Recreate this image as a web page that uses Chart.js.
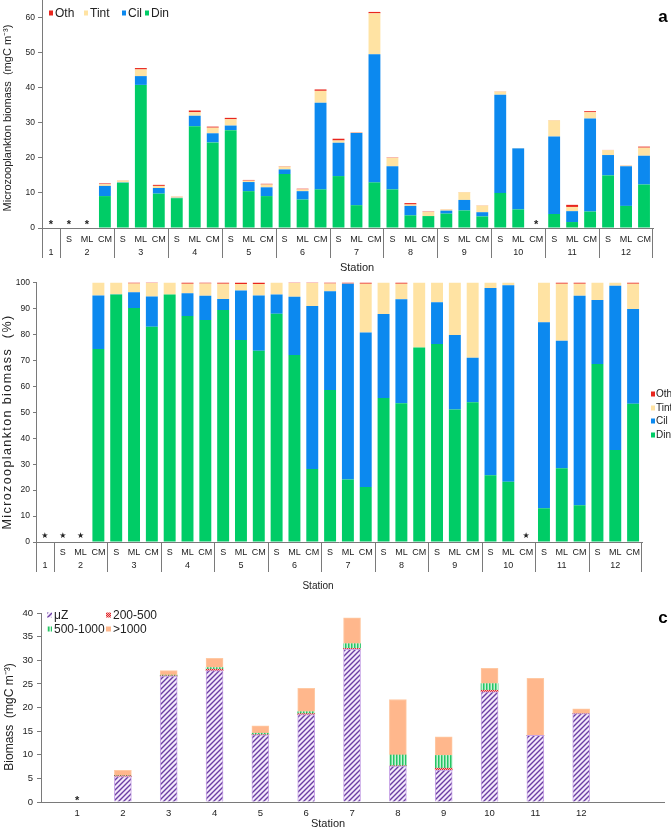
<!DOCTYPE html>
<html>
<head>
<meta charset="utf-8">
<script src="https://cdn.jsdelivr.net/npm/chart.js@4"></script>
<style>
body { margin: 0; background: #fff; width: 671px; height: 829px; overflow: hidden; position: relative; }
canvas { position: absolute; left: 0; }
</style>
</head>
<body>
<canvas id="ca" width="671" height="275" style="top:0"></canvas>
<canvas id="cb" width="671" height="320" style="top:275px"></canvas>
<canvas id="cc" width="671" height="234" style="top:595px"></canvas>
<script>
// slots along the x axis of panels a and b
var slotLabels = ['', 'S','ML','CM', 'S','ML','CM', 'S','ML','CM', 'S','ML','CM', 'S','ML','CM', 'S','ML','CM',
                  'S','ML','CM', 'S','ML','CM', 'S','ML','CM', 'S','ML','CM', 'S','ML','CM'];
var stationNames = ['1','2','3','4','5','6','7','8','9','10','11','12'];
var stationSlots = [1,3,3,3,3,3,3,3,3,3,3,3];
var missingSlots = [0,1,2,27];

// panel a, mgC m-3
var dinA  = [null,null,null,9.1, 12.9,40.8,9.8, 8.5,29.0,24.4, 27.9,10.5,9.1, 15.4,8.1,11.0, 14.8,6.5,13.0, 11.0,3.6,3.4, 4.1,5.0,3.3, 10.0,5.3,null, 4.0,1.7,4.7, 15.0,6.3,12.4];
var cilA  = [null,null,null,2.9, 0.1,2.5,1.6, 0.1,3.0,2.6, 1.3,2.6,2.5, 1.3,2.4,24.7, 9.5,20.6,36.5, 6.6,2.7,0, 0.85,3.0,1.2, 28.0,17.4,null, 22.1,3.1,26.5, 5.8,11.3,8.2];
var tintA = [null,null,null,0.5, 0.5,1.9,0.6, 0.35,1.0,1.6, 1.8,0.4,0.8, 0.8,0.5,3.4, 0.65,0.1,11.7, 2.4,0.4,1.2, 0.35,2.2,1.9, 0.9,0.1,null, 4.6,1.2,1.8, 1.4,0.2,2.3];
var othA  = [null,null,null,0.2, 0.05,0.4,0.3, 0.05,0.5,0.3, 0.4,0.2,0.2, 0.1,0.2,0.4, 0.5,0.1,0.4, 0.1,0.4,0.1, 0.05,0.05,0.05, 0.05,0,null, 0.05,0.6,0.3, 0.05,0.05,0.3];

// panel b, %
var dinB  = [null,null,null,74.4, 95.4,90.2,83.0, 95.4,87.1,85.6, 89.4,77.9,73.7, 88.0,72.1,28.1, 58.6,24.1,21.2, 55.5,53.5,75.0, 76.3,51.1,53.9, 25.7,23.2,null, 13.0,28.4,14.2, 68.6,35.5,53.3];
var cilB  = [null,null,null,20.6, 0.1,6.1,11.6, 0,8.8,9.3, 4.3,19.1,21.3, 7.4,22.4,62.9, 38.1,75.5,59.6, 32.4,40.1,0, 16.1,28.7,17.1, 72.2,75.8,null, 71.7,49.2,80.7, 24.7,63.3,36.5];
var tintB = [null,null,null,5.0, 4.5,3.4,5.2, 4.6,3.7,4.8, 5.9,2.5,4.5, 4.6,5.3,8.8, 3.0,0.1,18.8, 12.1,6.0,25.0, 7.6,20.2,29.0, 2.1,1.0,null, 15.3,22.0,4.7, 6.7,1.2,9.8];
var othB  = [null,null,null,0, 0,0.3,0.2, 0,0.4,0.3, 0.4,0.5,0.5, 0,0.2,0.2, 0.3,0.3,0.4, 0,0.4,0, 0,0,0, 0,0,null, 0,0.4,0.4, 0,0,0.4];

// panel c, mgC m-3 by size class
var cStations = [1,2,3,4,5,6,7,8,9,10,11,12];
var uzC   = [null,5.4,26.65,27.8,14.2,18.5,32.3,7.6,6.75,23.3,14.1,18.7];
var c200  = [null,0.15,0.05,0.3,0.05,0.2,0.2,0.05,0.4,0.35,0,0];
var c500  = [null,0.1,0.15,0.35,0.3,0.4,1.0,2.3,2.7,1.4,0,0];
var c1000 = [null,1.05,0.95,1.95,1.55,4.95,5.5,11.75,3.95,3.25,12.1,1.0];

Chart.defaults.font.family = "'Liberation Sans', Arial, sans-serif";
Chart.defaults.color = '#333';

var colDin = '#00cc66', colCil = '#0c89ef', colTint = '#ffe3a3', colOth = '#e8261e';
var axisCol = '#7a7a7a';

function makePattern(w, h, bg, draw) {
	var c = document.createElement('canvas');
	c.width = w; c.height = h;
	var g = c.getContext('2d');
	g.fillStyle = bg;
	g.fillRect(0, 0, w, h);
	draw(g, w, h);
	return g.createPattern(c, 'repeat');
}
var patUz = makePattern(5, 5, '#f3e9fb', function(g, s) {
	g.strokeStyle = '#6b3ea3'; g.lineWidth = 1.4;
	g.beginPath();
	g.moveTo(0, s); g.lineTo(s, 0);
	g.moveTo(-1, 1); g.lineTo(1, -1);
	g.moveTo(s - 1, s + 1); g.lineTo(s + 1, s - 1);
	g.stroke();
});
var pat200 = makePattern(2, 2, '#f6b3b3', function(g) {
	g.fillStyle = '#e0262a'; g.fillRect(0, 0, 1, 1); g.fillRect(1, 1, 1, 1);
});
var pat500 = makePattern(3, 3, '#c8f3d6', function(g) {
	g.fillStyle = '#25c464'; g.fillRect(0, 0, 1.5, 3);
});

function fixY(w) { return function(s) { s.width = w; s.paddingTop = 0; s.paddingBottom = 0; }; }
function fixX(h) { return function(s) { s.height = h; s.paddingLeft = 0; s.paddingRight = 0; }; }

function vText(ctx, text, x, y, font, spacing) {
	ctx.save();
	ctx.translate(x, y);
	ctx.rotate(-Math.PI / 2);
	ctx.font = font;
	if (spacing) ctx.letterSpacing = spacing + 'px';
	ctx.textAlign = 'center';
	ctx.textBaseline = 'middle';
	ctx.fillText(text, 0, 0);
	ctx.restore();
}

// station groups, stars, legend, titles
var decor = {
	id: 'decor',
	afterDraw: function(chart, args, o) {
		var ctx = chart.ctx, xs = chart.scales.x, ys = chart.scales.y;
		var y0 = ys.getPixelForValue(0);
		ctx.save();
		ctx.fillStyle = '#222';
		ctx.textAlign = 'center';
		ctx.textBaseline = 'middle';

		if (o.groups) {
			var half = (xs.getPixelForValue(1) - xs.getPixelForValue(0)) / 2;
			ctx.strokeStyle = axisCol; ctx.lineWidth = 1;
			ctx.font = o.groupFont;
			var i = 0;
			o.groups.forEach(function(n, g) {
				var l = xs.getPixelForValue(i) - half, r = xs.getPixelForValue(i + n - 1) + half;
				ctx.beginPath();
				ctx.moveTo(Math.round(l) + 0.5, y0); ctx.lineTo(Math.round(l) + 0.5, y0 + o.sepLen);
				if (g == o.groups.length - 1) {
					ctx.moveTo(Math.round(r) - 0.5, y0); ctx.lineTo(Math.round(r) - 0.5, y0 + o.sepLen);
				}
				ctx.stroke();
				ctx.fillText(o.groupNames[g], (l + r) / 2, o.groupY);
				i += n;
			});
		}

		if (o.stars) {
			ctx.font = o.starFont;
			o.stars.forEach(function(v) {
				ctx.fillText(o.starChar, xs.getPixelForValue(v), o.starY);
			});
		}

		if (o.legend) {
			ctx.textAlign = 'left';
			ctx.font = o.legend.font;
			o.legend.items.forEach(function(it) {
				var ds = chart.data.datasets[it.ds];
				ctx.fillStyle = ds.backgroundColor;
				ctx.fillRect(it.x, it.y - o.legend.bh / 2, o.legend.bw, o.legend.bh);
				ctx.fillStyle = '#222';
				ctx.fillText(ds.label, it.x + o.legend.bw + o.legend.gap, it.y + 0.5);
			});
		}

		ctx.textAlign = 'center';
		if (o.xTitle) {
			ctx.font = o.xTitle.font;
			ctx.fillText(o.xTitle.text, o.xTitle.x, o.xTitle.y);
		}
		if (o.yTitle) {
			vText(ctx, o.yTitle.text, o.yTitle.x, o.yTitle.y, o.yTitle.font, o.yTitle.spacing);
		}
		if (o.letter) {
			ctx.font = 'bold 17px ' + Chart.defaults.font.family;
			ctx.fillStyle = '#000';
			ctx.fillText(o.letter.text, o.letter.x, o.letter.y);
		}
		ctx.restore();
	}
};

function baseOptions(pad) {
	return {
		responsive: false,
		animation: false,
		layout: { padding: pad },
		plugins: { legend: { display: false }, tooltip: { enabled: false } }
	};
}

// panel a
var optA = baseOptions({ left: 0, right: 18, top: 0, bottom: 0 });
optA.datasets = { bar: { barPercentage: 0.66, categoryPercentage: 1 } };
optA.plugins.decor = {
	groups: stationSlots, groupNames: stationNames, groupFont: '9px Liberation Sans', groupY: 253, sepLen: 30,
	stars: missingSlots, starChar: '*', starFont: 'bold 11px Liberation Sans', starY: 225,
	legend: { font: '12px Liberation Sans', bw: 4, bh: 5, gap: 2,
		items: [{ ds: 3, x: 49, y: 13 }, { ds: 2, x: 84, y: 13 }, { ds: 1, x: 122, y: 13 }, { ds: 0, x: 145, y: 13 }] },
	xTitle: { text: 'Station', x: 357, y: 268, font: '11px Liberation Sans' },
	yTitle: { text: 'Microzooplankton biomass  (mgC m\u207B\u00B3)', x: 8, y: 118, font: '11px Liberation Sans' },
	letter: { text: 'a', x: 663, y: 17 }
};
optA.scales = {
	x: { stacked: true, grid: { display: false, drawTicks: false }, border: { color: axisCol },
		ticks: { autoSkip: false, maxRotation: 0, padding: 6, font: { size: 9 }, color: '#222' }, afterFit: fixX(47) },
	y: { stacked: true, min: 0, max: 65, grid: { drawOnChartArea: false, tickLength: 4, color: axisCol }, border: { color: axisCol },
		ticks: { stepSize: 10, includeBounds: false, padding: 3, font: { size: 8.5 }, color: '#222' }, afterFit: fixY(42) }
};
new Chart(document.getElementById('ca'), {
	type: 'bar',
	data: { labels: slotLabels, datasets: [
		{ label: 'Din', data: dinA, backgroundColor: colDin },
		{ label: 'Cil', data: cilA, backgroundColor: colCil },
		{ label: 'Tint', data: tintA, backgroundColor: colTint },
		{ label: 'Oth', data: othA, backgroundColor: colOth }
	] },
	options: optA,
	plugins: [decor]
});

// panel b
var optB = baseOptions({ left: 0, right: 29, top: 7.6, bottom: 0 });
optB.datasets = { bar: { barPercentage: 0.67, categoryPercentage: 1 } };
optB.plugins.decor = {
	groups: stationSlots, groupNames: stationNames, groupFont: '9px Liberation Sans', groupY: 291, sepLen: 30,
	stars: missingSlots, starChar: '\u2605', starFont: '8px DejaVu Sans', starY: 261,
	legend: { font: '10px Liberation Sans', bw: 4, bh: 5, gap: 1,
		items: [{ ds: 3, x: 651, y: 119 }, { ds: 2, x: 651, y: 133 }, { ds: 1, x: 651, y: 146 }, { ds: 0, x: 651, y: 160 }] },
	xTitle: { text: 'Station', x: 318, y: 311, font: '10px Liberation Sans' },
	yTitle: { text: 'Microzooplankton biomass  (%)', x: 7.5, y: 147, font: '12.5px Liberation Sans', spacing: 1.4 }
};
optB.scales = {
	x: { stacked: true, grid: { display: false, drawTicks: false }, border: { color: axisCol },
		ticks: { autoSkip: false, maxRotation: 0, padding: 5, font: { size: 9 }, color: '#222' }, afterFit: fixX(53) },
	y: { stacked: true, min: 0, max: 100, grid: { drawOnChartArea: false, tickLength: 3, color: axisCol }, border: { color: axisCol },
		ticks: { stepSize: 10, padding: 3, font: { size: 8.5 }, color: '#222' }, afterFit: fixY(36) }
};
new Chart(document.getElementById('cb'), {
	type: 'bar',
	data: { labels: slotLabels, datasets: [
		{ label: 'Din', data: dinB, backgroundColor: colDin },
		{ label: 'Cil', data: cilB, backgroundColor: colCil },
		{ label: 'Tint', data: tintB, backgroundColor: colTint },
		{ label: 'Oth', data: othB, backgroundColor: colOth }
	] },
	options: optB,
	plugins: [decor]
});

// panel c
var optC = baseOptions({ left: 0, right: 7, top: 18, bottom: 0 });
optC.datasets = { bar: { barThickness: 17 } };
optC.plugins.decor = {
	stars: [1], starChar: '*', starFont: 'bold 11px Liberation Sans', starY: 206,
	legend: { font: '12px Liberation Sans', bw: 5, bh: 5, gap: 2,
		items: [{ ds: 0, x: 47, y: 20 }, { ds: 1, x: 106, y: 20 }, { ds: 2, x: 47, y: 34 }, { ds: 3, x: 106, y: 34 }] },
	xTitle: { text: 'Station', x: 328, y: 229, font: '11px Liberation Sans' },
	yTitle: { text: 'Biomass  (mgC m\u207B\u00B3)', x: 10, y: 122, font: '12px Liberation Sans' },
	letter: { text: 'c', x: 663, y: 23 }
};
optC.scales = {
	x: { type: 'linear', stacked: true, min: 0.78, max: 13.24, grid: { display: false, drawTicks: false }, border: { color: axisCol },
		ticks: { stepSize: 1, padding: 6, font: { size: 9.5 }, color: '#222' },
		afterBuildTicks: function(s) { s.ticks = cStations.map(function(v) { return { value: v }; }); },
		afterFit: fixX(27) },
	y: { stacked: true, min: 0, max: 40, grid: { drawOnChartArea: false, tickLength: 4, color: axisCol }, border: { color: axisCol },
		ticks: { stepSize: 5, padding: 4, font: { size: 9.5 }, color: '#222' }, afterFit: fixY(41) }
};
new Chart(document.getElementById('cc'), {
	type: 'bar',
	data: { labels: cStations, datasets: [
		{ label: '\u03BCZ', data: uzC, backgroundColor: patUz, borderColor: '#c7a3e6', borderWidth: 1 },
		{ label: '200-500', data: c200, backgroundColor: pat200 },
		{ label: '500-1000', data: c500, backgroundColor: pat500 },
		{ label: '>1000', data: c1000, backgroundColor: '#ffb78c', borderColor: '#ffc9a3', borderWidth: 1 }
	] },
	options: optC,
	plugins: [decor]
});
</script>
</body>
</html>
